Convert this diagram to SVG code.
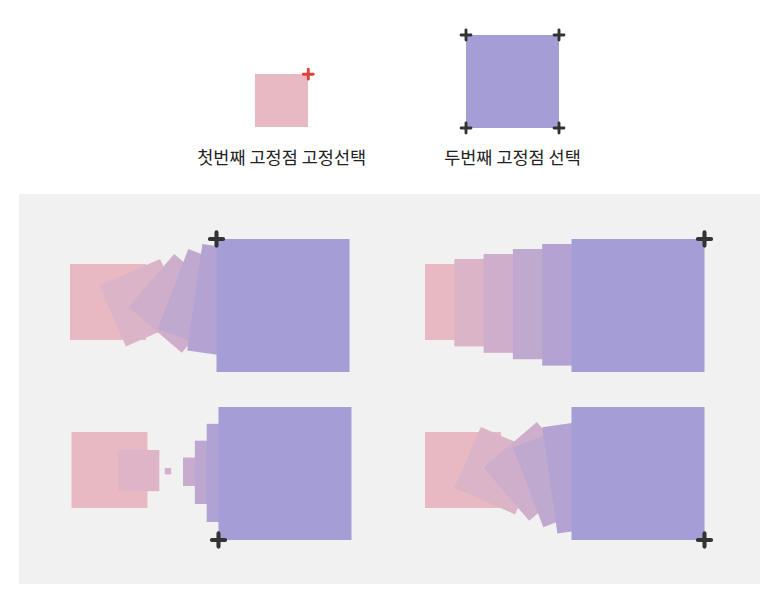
<svg xmlns="http://www.w3.org/2000/svg" xmlns:xlink="http://www.w3.org/1999/xlink" width="782" height="606" viewBox="0 0 782 606">
<style>
.lbl{font-family:"Noto Sans CJK KR","Noto Sans",sans-serif;font-size:17.5px;fill:#222;text-anchor:middle}
.pk{fill:#e9b9c3}
.pu{fill:#a59ed6}
.pin{fill:none;stroke:#333;stroke-linecap:round}
.pinr{fill:none;stroke:#e0413a;stroke-linecap:round}
</style>
<defs>
<path id="plus" d="M-5.5,0H5.5M0,-5.5V5.5"/>
</defs>
<rect width="782" height="606" fill="#ffffff"/>
<g id="legend-first">
<rect class="pk" x="255" y="74" width="53" height="53"/>
<use xlink:href="#plus" class="pinr" stroke-width="3.2" transform="translate(308.3,74.2) scale(0.9)"/>
<text class="lbl" x="281.7" y="164">첫번째 고정점 고정선택</text>
</g>
<g id="legend-second">
<rect class="pu" x="466" y="35" width="93" height="93"/>
<g class="pin" stroke-width="3.2">
<use xlink:href="#plus" transform="translate(466,35) scale(0.9)"/>
<use xlink:href="#plus" transform="translate(559,35) scale(0.9)"/>
<use xlink:href="#plus" transform="translate(466,128) scale(0.9)"/>
<use xlink:href="#plus" transform="translate(559,128) scale(0.9)"/>
</g>
<text class="lbl" x="512.5" y="164">두번째 고정점 선택</text>
</g>
<rect id="panel-bg" x="19" y="194" width="741" height="390" fill="#f1f1f1"/>
<g id="panel-top-left">
<rect class="pk" x="70" y="264" width="76" height="76"/>
<rect width="1" height="1" fill="#dbb4c7" transform="matrix(60.8,-26.6,26.6,60.8,99.3,285.6)"/>
<rect width="1" height="1" fill="#ceaecb" transform="matrix(45.6,-53.2,53.2,45.6,128.6,307.2)"/>
<rect width="1" height="1" fill="#c0a9ce" transform="matrix(30.4,-79.8,79.8,30.4,157.9,328.8)"/>
<rect width="1" height="1" fill="#b3a3d2" transform="matrix(15.2,-106.4,106.4,15.2,187.2,350.4)"/>
<rect class="pu" x="216.5" y="239" width="133" height="133"/>
<use xlink:href="#plus" class="pin" stroke-width="3.4" transform="translate(216.5,239) scale(1.2)"/>
</g>
<g id="panel-top-right">
<rect class="pk" x="425" y="264" width="76" height="76"/>
<rect fill="#dbb4c7" x="454.3" y="259" width="87.4" height="87.4"/>
<rect fill="#ceaecb" x="483.6" y="254" width="98.8" height="98.8"/>
<rect fill="#c0a9ce" x="512.9" y="249" width="110.2" height="110.2"/>
<rect fill="#b3a3d2" x="542.2" y="244" width="121.6" height="121.6"/>
<rect class="pu" x="571.5" y="239" width="133" height="133"/>
<use xlink:href="#plus" class="pin" stroke-width="3.4" transform="translate(704.5,239) scale(1.2)"/>
</g>
<g id="panel-bottom-left">
<rect class="pk" x="71.5" y="432" width="76" height="76"/>
<rect fill="#deb4c6" x="118.17" y="450" width="41.17" height="41.17"/>
<rect fill="#d2b0c9" x="164.83" y="468" width="6.33" height="6.33"/>
<rect fill="#c7accd" x="183" y="457.5" width="28.5" height="28.5"/>
<rect fill="#bca7d0" x="194.83" y="440.67" width="63.33" height="63.33"/>
<rect fill="#b0a3d3" x="206.67" y="423.83" width="98.17" height="98.17"/>
<rect class="pu" x="218.5" y="407" width="133" height="133"/>
<use xlink:href="#plus" class="pin" stroke-width="3.4" transform="translate(218.5,540) scale(1.2)"/>
</g>
<g id="panel-bottom-right">
<rect class="pk" x="425" y="432" width="76" height="76"/>
<rect width="1" height="1" fill="#dbb4c7" transform="matrix(60.8,26.6,-26.6,60.8,480.9,427)"/>
<rect width="1" height="1" fill="#ceaecb" transform="matrix(45.6,53.2,-53.2,45.6,536.8,422)"/>
<rect width="1" height="1" fill="#c0a9ce" transform="matrix(30.4,79.8,-79.8,30.4,592.7,417)"/>
<rect width="1" height="1" fill="#b3a3d2" transform="matrix(15.2,106.4,-106.4,15.2,648.6,412)"/>
<rect class="pu" x="571.5" y="407" width="133" height="133"/>
<use xlink:href="#plus" class="pin" stroke-width="3.4" transform="translate(704.5,540) scale(1.2)"/>
</g>
</svg>
